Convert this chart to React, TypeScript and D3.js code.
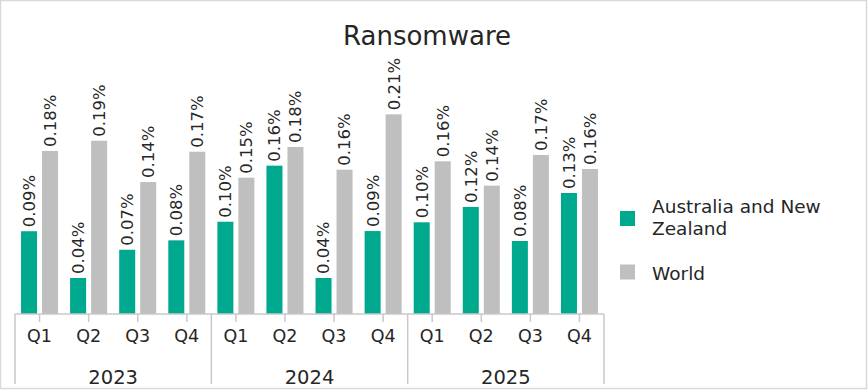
import React, { useRef, useEffect } from 'react';
import * as d3 from 'd3';

const years = ['2023', '2024', '2025'];
const quarters = ['Q1', 'Q2', 'Q3', 'Q4'];
const seriesNames = ['Australia and New Zealand', 'World'];
// percent values
const anzValues = [0.089, 0.0387, 0.0691, 0.0792, 0.0992, 0.1595, 0.0387, 0.0892, 0.0986, 0.1151, 0.0785, 0.1301];
const worldValues = [0.1753, 0.1863, 0.1419, 0.1745, 0.1466, 0.1796, 0.1552, 0.2147, 0.1642, 0.138, 0.171, 0.1559];
const colors = ['#00a88e', '#bfbfbf'];

const App = () => {
    const svgRef = useRef<SVGSVGElement>(null);
    const width = 868;
    const height = 390;
    const margin = { top: 81.5, bottom: 76, left: 15, right: 264 };
    const font = 'DejaVu Sans';
    const textColor = '#262626';

    useEffect(() => {
        const svg = d3.select(svgRef.current);
        svg.selectAll('*').remove();

        const cats = years.flatMap(y => quarters.map(q => `${y}-${q}`));
        const baseY = height - margin.bottom;

        const x = d3.scaleBand().domain(cats).range([margin.left, width - margin.right]).padding(0);
        const xInner = d3.scaleBand().domain(['anz', 'world']).range([0, x.bandwidth()])
            .paddingInner(0.238).paddingOuter(0.2875);
        const y = d3.scaleLinear().domain([0, 0.25]).range([baseY, margin.top]);

        // outer frame
        svg.append('rect')
            .attr('x', 0.5).attr('y', 0.5)
            .attr('width', width - 2).attr('height', height - 2)
            .attr('fill', '#fff').attr('stroke', '#d9d9d9').attr('stroke-width', 1.5);

        svg.append('text')
            .attr('x', 427).attr('y', 44.5)
            .attr('text-anchor', 'middle')
            .attr('font-family', font).attr('font-size', 26)
            .attr('fill', textColor)
            .text('Ransomware');

        const rows = cats.map((c, i) => ({ cat: c, vals: [anzValues[i], worldValues[i]] }));

        const g = svg.append('g');
        const groups = g.selectAll('.grp').data(rows).join('g')
            .attr('class', 'grp')
            .attr('transform', d => `translate(${x(d.cat)},0)`);

        groups.selectAll('rect')
            .data(d => d.vals.map((v, k) => ({ key: k === 0 ? 'anz' : 'world', v, k })))
            .join('rect')
            .attr('x', d => xInner(d.key)!)
            .attr('y', d => y(d.v))
            .attr('width', xInner.bandwidth())
            .attr('height', d => baseY - y(d.v))
            .attr('fill', d => colors[d.k]);

        groups.selectAll('text')
            .data(d => d.vals.map((v, k) => ({ key: k === 0 ? 'anz' : 'world', v })))
            .join('text')
            .attr('transform', d => `translate(${xInner(d.key)! + xInner.bandwidth() / 2},${y(d.v) - 4}) rotate(-90)`)
            .attr('dy', '0.36em')
            .attr('text-anchor', 'start')
            .attr('font-family', font).attr('font-size', 16.5)
            .attr('fill', textColor)
            .text(d => `${d.v.toFixed(2)}%`);

        // category axis
        const axisColor = '#c9c9c9';
        svg.append('line')
            .attr('x1', margin.left).attr('x2', width - margin.right)
            .attr('y1', baseY).attr('y2', baseY)
            .attr('stroke', axisColor).attr('stroke-width', 1.5);

        svg.selectAll('.tick').data(cats).join('line')
            .attr('class', 'tick')
            .attr('x1', d => x(d)! + x.bandwidth() / 2).attr('x2', d => x(d)! + x.bandwidth() / 2)
            .attr('y1', baseY).attr('y2', baseY + 8)
            .attr('stroke', axisColor).attr('stroke-width', 1.5);

        svg.selectAll('.qlab').data(cats).join('text')
            .attr('class', 'qlab')
            .attr('x', d => x(d)! + x.bandwidth() / 2)
            .attr('y', 342)
            .attr('text-anchor', 'middle')
            .attr('font-family', font).attr('font-size', 17.5)
            .attr('fill', textColor)
            .text(d => d.split('-')[1]);

        const yearStart = (yr: string) => x(`${yr}-Q1`)!;
        const yearEnd = (yr: string) => x(`${yr}-Q4`)! + x.bandwidth();
        const seps = [yearStart(years[0]), ...years.map(yearEnd)];
        svg.selectAll('.sep').data(seps).join('line')
            .attr('class', 'sep')
            .attr('x1', d => d).attr('x2', d => d)
            .attr('y1', baseY).attr('y2', 384)
            .attr('stroke', axisColor).attr('stroke-width', 1.5);

        svg.selectAll('.ylab').data(years).join('text')
            .attr('class', 'ylab')
            .attr('x', d => (yearStart(d) + yearEnd(d)) / 2)
            .attr('y', 384)
            .attr('text-anchor', 'middle')
            .attr('font-family', font).attr('font-size', 19.5)
            .attr('fill', textColor)
            .text(d => d);

        // legend
        const legend = svg.append('g').attr('transform', 'translate(620,0)');
        const legendRows = [
            { name: seriesNames[0], lines: ['Australia and New', 'Zealand'], sq: 211, base: 212.5 },
            { name: seriesNames[1], lines: ['World'], sq: 264.5, base: 279.5 },
        ];
        legendRows.forEach((r, i) => {
            legend.append('rect')
                .attr('x', 0).attr('y', r.sq)
                .attr('width', 15).attr('height', 15)
                .attr('fill', colors[i]);
            const t = legend.append('text')
                .attr('x', 32).attr('y', r.base)
                .attr('font-family', font).attr('font-size', 18.5)
                .attr('fill', textColor);
            r.lines.forEach((ln, j) => {
                t.append('tspan').attr('x', 32).attr('dy', j === 0 ? 0 : 22).text(ln);
            });
        });
    }, []);

    return (
        <svg ref={svgRef} width={width} height={height}
            style={{ position: 'absolute', left: 0, top: 0, display: 'block' }} />
    );
};

export default App;
